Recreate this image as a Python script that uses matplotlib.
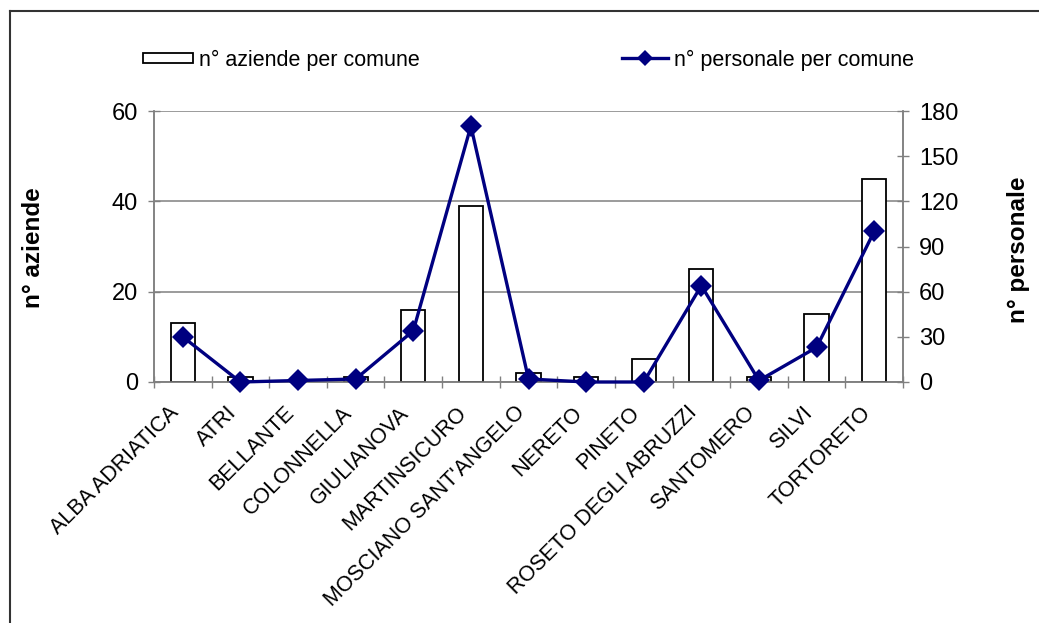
import numpy as np
import matplotlib
matplotlib.use("Agg")
import matplotlib.pyplot as plt
import matplotlib.transforms as mtransforms
from matplotlib.lines import Line2D
from matplotlib.patches import Patch

plt.rcParams['font.family'] = ['Liberation Sans', 'DejaVu Sans']

comuni = ["ALBA ADRIATICA", "ATRI", "BELLANTE", "COLONNELLA", "GIULIANOVA",
          "MARTINSICURO", "MOSCIANO SANT'ANGELO", "NERETO", "PINETO",
          "ROSETO DEGLI ABRUZZI", "SANTOMERO", "SILVI", "TORTORETO"]
aziende = [13, 1, 0, 1, 16, 39, 2, 1, 5, 25, 1, 15, 45]
personale = [30, 0, 1, 2, 34, 170, 2, 0, 0, 64, 1, 23, 100]

left_ticks = [0, 20, 40, 60]
right_ticks = [0, 30, 60, 90, 120, 150, 180]

W, H = 1039, 623
fig = plt.figure(figsize=(W / 100, H / 100), dpi=100)
ax = fig.add_axes([154 / W, 1 - 382 / H, (903 - 154) / W, (382 - 111) / H])
ax2 = ax.twinx()

grey = "#808080"
navy = "#000080"
x = np.arange(len(comuni))

ax.bar(x, aziende, width=0.42, color="white", edgecolor="black", linewidth=1.3, zorder=3)
ax.set_ylim(0, 60)
ax.set_xlim(-0.5, len(comuni) - 0.5)
ax.set_yticks(left_ticks)
ax.grid(axis="y", color=grey, linewidth=1.1, zorder=0)
ax.set_axisbelow(True)

ax2.plot(x, personale, color=navy, linewidth=2.4, marker="D", markersize=11,
         markeredgewidth=0, clip_on=False, zorder=5)
ax2.set_ylim(0, 180)
ax2.set_yticks(right_ticks)

# category boundaries carry the tick marks, names sit at the centres
ax.set_xticks(np.arange(len(comuni) + 1) - 0.5)
ax.set_xticklabels([])
ax.set_xticks(x, minor=True)
ax.set_xticklabels(comuni, minor=True, rotation=45, ha="right", va="center",
                   rotation_mode="anchor", fontsize=15.5)
ax.tick_params(axis="x", which="minor", length=0, pad=20)
ax.tick_params(axis="x", which="major", direction="inout", length=9, color=grey, width=1)
ax.tick_params(axis="y", direction="inout", length=9, color=grey, width=1, labelsize=17, pad=7)
ax2.tick_params(axis="y", direction="inout", length=9, color=grey, width=1, labelsize=17, pad=7)

shift = mtransforms.ScaledTranslation(-7 / 100, 0, fig.dpi_scale_trans)
for lab in ax.get_xticklabels(minor=True):
    lab.set_transform(lab.get_transform() + shift)

for a in (ax, ax2):
    a.spines["top"].set_visible(False)
    for s in ("left", "right", "bottom"):
        a.spines[s].set_color(grey)
        a.spines[s].set_linewidth(1.1)

fig.text(34 / W, 1 - 248 / H, "n° aziende", rotation=90, ha="center", va="center",
         fontsize=17.5, fontweight="bold")
fig.text(1018 / W, 1 - 250 / H, "n° personale", rotation=90, ha="center", va="center",
         fontsize=17.5, fontweight="bold")

# legend entries
h_bar = Patch(facecolor="white", edgecolor="black", linewidth=1.3)
h_line = Line2D([], [], color=navy, linewidth=2.4, marker="D", markersize=8, markeredgewidth=0)
fig.legend([h_bar], ["n° aziende per comune"], loc="center left",
           bbox_to_anchor=(124 / W, 1 - 60 / H), frameon=False, fontsize=15.5,
           handlelength=2.3, handleheight=0.35, handletextpad=0.3)
fig.legend([h_line], ["n° personale per comune"], loc="center left",
           bbox_to_anchor=(603 / W, 1 - 60 / H), frameon=False, fontsize=15.5,
           handlelength=2.1, handletextpad=0.3)

# outer frame (top and left edges)
fig.add_artist(Line2D([9.5 / W, 1], [1 - 10.5 / H, 1 - 10.5 / H], color="#333333",
                      linewidth=1.5, transform=fig.transFigure))
fig.add_artist(Line2D([9.5 / W, 9.5 / W], [0, 1 - 10.5 / H], color="#333333",
                      linewidth=1.5, transform=fig.transFigure))

fig.savefig("out.png", dpi=100, facecolor="white")
